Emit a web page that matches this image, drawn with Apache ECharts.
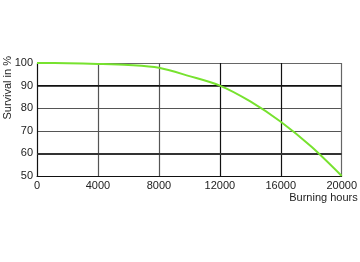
<!DOCTYPE html>
<html><head><meta charset="utf-8">
<script src="https://cdn.jsdelivr.net/npm/echarts@6/dist/echarts.min.js"></script>
<style>html,body{margin:0;padding:0;background:#fff}#c{width:360px;height:262px}</style>
</head><body><div id="c"></div>
<script>
var hours = [0, 2000, 4000, 6000, 8000, 10000, 12000, 14000, 16000, 18000, 20000];
var survival = [100, 99.9, 99.6, 99.1, 97.9, 94.2, 90, 83, 74, 63, 50];
var xTicks = [0, 4000, 8000, 12000, 16000, 20000];
var yTicks = [50, 60, 70, 80, 90, 100];
var yLabel = 'Survival in %';
var xLabel = 'Burning hours';

var chart = echarts.init(document.getElementById('c'), null, {renderer: 'canvas'});
var font = 'Liberation Sans, Arial, sans-serif';
chart.setOption({
  animation: false,
  grid: {left: 37, right: 16, top: 63, bottom: 86, containLabel: false},
  xAxis: {
    type: 'value', min: xTicks[0], max: xTicks[xTicks.length - 1], interval: 4000,
    axisLine: {show: true, lineStyle: {color: '#111', width: 1}},
    axisTick: {show: false},
    axisLabel: {color: '#222', fontSize: 11, fontFamily: font, margin: 4, formatter: function (v) { return String(v); }},
    splitLine: {show: true, lineStyle: {color: ['#111', '#555', '#555', '#111', '#111', '#666'], width: 1.2}},
    name: xLabel, nameLocation: 'end', nameGap: 0,
    nameTextStyle: {color: '#222', fontSize: 11, fontFamily: font, align: 'right', verticalAlign: 'top', padding: [16, -16, 0, 0]}
  },
  yAxis: {
    type: 'value', min: yTicks[0], max: yTicks[yTicks.length - 1], interval: 10,
    axisLine: {show: true, lineStyle: {color: '#111', width: 1}},
    axisTick: {show: false},
    axisLabel: {color: '#222', fontSize: 11, fontFamily: font, margin: 4},
    splitLine: {show: true, lineStyle: {color: ['#111', '#333', '#555', '#555', '#111', '#666'], width: 1.2}}
  },
  graphic: [{
    type: 'text', left: 2, top: 56, rotation: Math.PI / 2,
    style: {text: yLabel, fill: '#222', font: '11px ' + font}
  }],
  series: [{
    type: 'line', smooth: 0.3, symbol: 'none',
    data: hours.map(function (h, i) { return [h, survival[i]]; }),
    lineStyle: {color: '#77E22F', width: 2},
    z: 5,
    markLine: {
      silent: true, symbol: 'none', label: {show: false},
      data: [
        {yAxis: 60, lineStyle: {color: '#333', width: 2.2, type: 'solid'}},
        {yAxis: 90, lineStyle: {color: '#111', width: 1.6, type: 'solid'}}
      ]
    }
  }]
});
</script></body></html>
